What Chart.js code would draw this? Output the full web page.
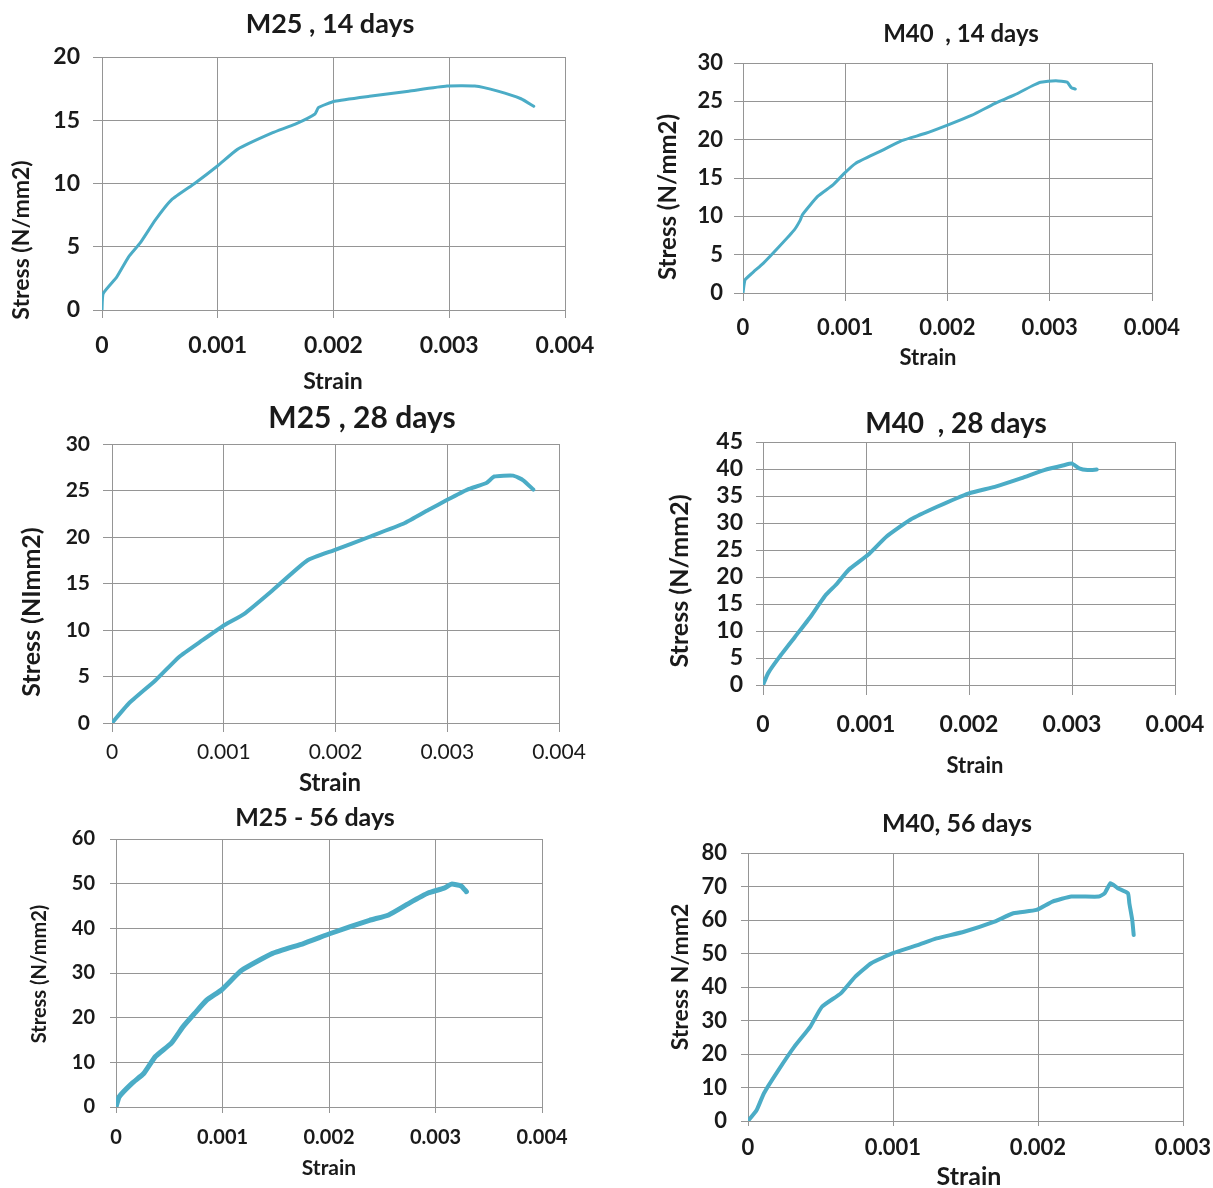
<!DOCTYPE html>
<html>
<head>
<meta charset="utf-8">
<title>Stress - strain curves</title>
<script src="https://cdn.jsdelivr.net/npm/chart.js@4.4.1/dist/chart.umd.min.js"></script>
<style>
  html, body { margin: 0; padding: 0; background: #fff; }
  #page { position: relative; width: 1213px; height: 1188px; overflow: hidden; background: #fff; }
  canvas { position: absolute; }
</style>
</head>
<body>
<div id="page"></div>
<script>
// M25 , 14 days
const m25d14Strain = [0, 0.00001, 0.000127, 0.00023, 0.00033, 0.00046, 0.0006, 0.0008, 0.001, 0.00117, 0.00147, 0.00167, 0.00184, 0.00187, 0.00201, 0.00231, 0.00265, 0.00298, 0.00322, 0.00342, 0.00362, 0.00373];
const m25d14Stress = [0, 1.3, 2.6, 4.2, 5.3, 7.1, 8.7, 10.0, 11.4, 12.7, 14.0, 14.7, 15.5, 16.0, 16.5, 16.9, 17.3, 17.7, 17.7, 17.3, 16.7, 16.1];

// M40 , 14 days
const m40d14Strain = [0, 0.00002, 0.00009, 0.0002, 0.00035, 0.0005, 0.00056, 0.00058, 0.00073, 0.00088, 0.00099, 0.0011, 0.00133, 0.00156, 0.00178, 0.002, 0.00224, 0.00246, 0.00265, 0.00284, 0.00291, 0.00306, 0.00317, 0.00321, 0.00325];
const m40d14Stress = [0, 1.7, 2.6, 3.9, 6.0, 8.2, 9.5, 10.2, 12.6, 14.1, 15.6, 16.9, 18.4, 19.9, 20.8, 21.9, 23.2, 24.7, 25.8, 27.1, 27.5, 27.7, 27.5, 26.8, 26.6];

// M25 , 28 days
const m25d28Strain = [0, 0.00015, 0.00039, 0.0006, 0.00081, 0.00099, 0.00119, 0.00144, 0.00175, 0.00199, 0.0023, 0.00262, 0.00283, 0.003, 0.00318, 0.00335, 0.00342, 0.00359, 0.00368, 0.00377];
const m25d28Stress = [0, 2.1, 4.6, 7.1, 8.9, 10.4, 11.8, 14.3, 17.5, 18.6, 20.0, 21.5, 22.9, 24.0, 25.1, 25.8, 26.5, 26.6, 26.1, 25.1];

// M40 , 28 days
const m40d28Strain = [0, 0.00005, 0.00016, 0.00031, 0.00046, 0.00055, 0.00061, 0.00072, 0.00083, 0.00102, 0.0012, 0.00143, 0.00169, 0.002, 0.00225, 0.00251, 0.00273, 0.00292, 0.003, 0.00307, 0.00315, 0.00324];
const m40d28Stress = [0, 2.2, 5.2, 8.9, 12.6, 15.1, 16.7, 18.8, 21.3, 24.1, 27.5, 30.6, 33.0, 35.5, 36.7, 38.3, 39.8, 40.7, 41.0, 40.1, 39.8, 39.9];

// M25 - 56 days
const m25d56Strain = [0, 0.00003, 0.00015, 0.00026, 0.00037, 0.00052, 0.00063, 0.00074, 0.00085, 0.00099, 0.00118, 0.00147, 0.00176, 0.00202, 0.00238, 0.00256, 0.00275, 0.00293, 0.00308, 0.00315, 0.00324, 0.00329];
const m25d56Stress = [0, 2.3, 5.3, 7.5, 11.3, 14.3, 18.0, 21.0, 23.9, 26.2, 30.6, 34.4, 36.6, 38.9, 41.8, 43.0, 45.6, 47.9, 49.0, 49.9, 49.5, 48.2];

// M40, 56 days
const m40d56Strain = [0, 0.00006, 0.00011, 0.00021, 0.00032, 0.00043, 0.00051, 0.00064, 0.00074, 0.00085, 0.001, 0.00117, 0.0013, 0.00149, 0.0017, 0.00183, 0.00199, 0.0021, 0.00223, 0.00242, 0.00246, 0.0025, 0.00255, 0.00262, 0.00263, 0.00265, 0.00266];
const m40d56Stress = [0, 3.3, 8.3, 15.2, 22.2, 28.2, 34.1, 38.1, 43.1, 47.1, 50.1, 52.5, 54.5, 56.5, 59.5, 62.0, 63.0, 65.5, 67.0, 67.0, 68.0, 71.0, 69.5, 68.0, 65.0, 60.0, 55.5];

const FONT = "Lato, 'Open Sans', sans-serif";
const LINE = '#4bacc6';
const GRID = '#959595';
const TEXT = '#1a1a1a';
const YW = 50; // fixed width of the y scale box
const XH = 60; // fixed height of the x scale box

// box = canvas area on the page, plot = chart area on the page (left, top, right, bottom)
const panels = [
  { title: 'M25 , 14 days', yTitle: 'Stress (N/mm2)', strain: m25d14Strain, stress: m25d14Stress,
    xMax: 0.004, yMax: 20, yStep: 5, lineW: 3,
    box: [0, 0, 606, 400], plot: [102, 57, 565, 310],
    titleAt: [330, 24, 27], yTitleAt: [22, 240, 23], xTitleAt: [333, 382, 23],
    tick: { size: 23, xWeight: 'bold', yLen: 9, yPad: 13, xLen: 8, xPad: 14 } },
  { title: 'M40  , 14 days', yTitle: 'Stress (N/mm2)', strain: m40d14Strain, stress: m40d14Stress,
    xMax: 0.004, yMax: 30, yStep: 5, lineW: 3,
    box: [606, 0, 607, 400], plot: [743, 63, 1152, 293],
    titleAt: [961, 34, 24], yTitleAt: [668, 197, 24], xTitleAt: [928, 358, 22],
    tick: { size: 22, xWeight: 'bold', yLen: 9, yPad: 11, xLen: 8, xPad: 14 } },
  { title: 'M25 , 28 days', yTitle: 'Stress (NImm2)', strain: m25d28Strain, stress: m25d28Stress,
    xMax: 0.004, yMax: 30, yStep: 5, lineW: 4,
    box: [0, 400, 606, 395], plot: [112, 444, 559, 723],
    titleAt: [362, 418, 30], yTitleAt: [32, 612, 25], xTitleAt: [330, 783, 24],
    tick: { size: 21, xWeight: 'normal', yLen: 9, yPad: 13, xLen: 9, xPad: 8 } },
  { title: 'M40  , 28 days', yTitle: 'Stress (N/mm2)', strain: m40d28Strain, stress: m40d28Stress,
    xMax: 0.004, yMax: 45, yStep: 5, lineW: 4,
    box: [606, 400, 607, 395], plot: [763, 442, 1175, 685],
    titleAt: [956, 424, 28], yTitleAt: [680, 581, 25], xTitleAt: [975, 766, 22],
    tick: { size: 23, xWeight: 'bold', yLen: 7, yPad: 13, xLen: 10, xPad: 16 } },
  { title: 'M25 - 56 days', yTitle: 'Stress (N/mm2)', strain: m25d56Strain, stress: m25d56Stress,
    xMax: 0.004, yMax: 60, yStep: 10, lineW: 5,
    box: [0, 795, 606, 393], plot: [116, 839, 542, 1107],
    titleAt: [315, 818, 25], yTitleAt: [40, 974, 20], xTitleAt: [329, 1168, 21],
    tick: { size: 20, xWeight: 'bold', yLen: 6, yPad: 15, xLen: 6, xPad: 13 } },
  { title: 'M40, 56 days', yTitle: 'Stress N/mm2', strain: m40d56Strain, stress: m40d56Stress,
    xMax: 0.003, yMax: 80, yStep: 10, lineW: 4,
    box: [606, 795, 607, 393], plot: [748, 853, 1183, 1121],
    titleAt: [957, 824, 25], yTitleAt: [681, 977, 23], xTitleAt: [969, 1177, 25],
    tick: { size: 22, xWeight: 'bold', yLen: 7, yPad: 14, xLen: 5, xPad: 9 } }
];

// draws the panel title and the two axis titles
const panelText = {
  id: 'panelText',
  afterDraw(chart, args, opts) {
    const p = opts.panel;
    const ox = p.box[0], oy = p.box[1];
    const ctx = chart.ctx;
    ctx.save();
    ctx.fillStyle = TEXT;
    ctx.textAlign = 'center';
    ctx.textBaseline = 'middle';
    ctx.font = 'bold ' + p.titleAt[2] + 'px ' + FONT;
    ctx.fillText(p.title, p.titleAt[0] - ox, p.titleAt[1] - oy);
    ctx.font = 'bold ' + p.xTitleAt[2] + 'px ' + FONT;
    ctx.fillText('Strain', p.xTitleAt[0] - ox, p.xTitleAt[1] - oy);
    ctx.translate(p.yTitleAt[0] - ox, p.yTitleAt[1] - oy);
    ctx.rotate(-Math.PI / 2);
    ctx.font = 'bold ' + p.yTitleAt[2] + 'px ' + FONT;
    ctx.fillText(p.yTitle, 0, 0);
    ctx.restore();
  }
};

function desenharPainel(p) {
  const canvas = document.createElement('canvas');
  const [bx, by, bw, bh] = p.box;
  const [l, t, r, b] = p.plot;
  canvas.width = bw;
  canvas.height = bh;
  canvas.style.left = bx + 'px';
  canvas.style.top = by + 'px';
  canvas.style.width = bw + 'px';
  canvas.style.height = bh + 'px';
  document.getElementById('page').appendChild(canvas);

  const pontos = p.strain.map((x, i) => ({ x: x, y: p.stress[i] }));

  new Chart(canvas.getContext('2d'), {
    type: 'line',
    data: {
      datasets: [{
        data: pontos,
        borderColor: LINE,
        borderWidth: p.lineW,
        pointRadius: 0,
        fill: false,
        tension: 0.15,
        borderJoinStyle: 'round',
        borderCapStyle: 'round'
      }]
    },
    options: {
      responsive: false,
      animation: false,
      events: [],
      layout: {
        padding: { left: l - bx - YW, top: t - by, right: bx + bw - r, bottom: by + bh - b - XH }
      },
      plugins: {
        legend: { display: false },
        tooltip: { enabled: false },
        panelText: { panel: p }
      },
      scales: {
        x: {
          type: 'linear',
          min: 0,
          max: p.xMax,
          afterFit: s => { s.height = XH; s.paddingLeft = 0; s.paddingRight = 0; },
          grid: { color: GRID, lineWidth: 1, tickLength: p.tick.xLen, drawTicks: true },
          border: { color: GRID, width: 1 },
          ticks: {
            stepSize: 0.001,
            maxRotation: 0,
            autoSkip: false,
            padding: p.tick.xPad,
            color: TEXT,
            font: { family: FONT, size: p.tick.size, weight: p.tick.xWeight },
            callback: v => v === 0 ? '0' : v.toFixed(3)
          }
        },
        y: {
          type: 'linear',
          min: 0,
          max: p.yMax,
          afterFit: s => { s.width = YW; },
          grid: { color: GRID, lineWidth: 1, tickLength: p.tick.yLen, drawTicks: true },
          border: { color: GRID, width: 1 },
          ticks: {
            stepSize: p.yStep,
            autoSkip: false,
            padding: p.tick.yPad,
            color: TEXT,
            font: { family: FONT, size: p.tick.size, weight: 'bold' }
          }
        }
      }
    },
    plugins: [panelText]
  });
}

panels.forEach(desenharPainel);
</script>
</body>
</html>
